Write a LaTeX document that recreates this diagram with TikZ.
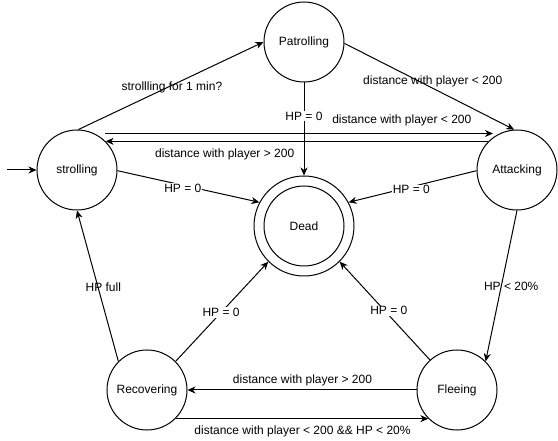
\documentclass[tikz,border=0pt]{standalone}
\usepackage{fontspec}
\setmainfont{Liberation Sans}
\usetikzlibrary{arrows.meta,calc}
\begin{document}
\begin{tikzpicture}[x=1pt,y=-1pt,
  state/.style={draw,circle,line width=1pt,minimum size=80pt,inner sep=0pt,font=\fontsize{12}{14}\selectfont},
  edge/.style={line width=1pt,-{Stealth[length=8pt,width=7pt,inset=2.5pt]}},
  lbl/.style={font=\fontsize{12}{14}\selectfont,inner sep=1pt},
  lblw/.style={lbl,fill=white}]
\useasboundingbox (0,0) rectangle (558,441);
\node[state] (P) at (304,42) {Patrolling};
\node[state] (S) at (77,170) {strolling};
\node[state] (A) at (517,170) {Attacking};
\node[state,minimum size=100pt] (D) at (304,226) {};
\node[state] (Din) at (304,226) {Dead};
\node[state] (R) at (147,390) {Recovering};
\node[state] (F) at (457,390) {Fleeing};
\coordinate (init) at (7,170);
\coordinate (sa1) at ($(S)+(28,-36.5)$);
\coordinate (sa2) at ($(A)+(-24,-36.5)$);
\draw[edge] (init) -- (S.west);
\draw[edge] (S.88) -- node[lbl,pos=0.505,yshift=-2pt]{strollling for 1 min?} (P.180);
\draw[edge] (P.-2) -- node[lbl,pos=0.52,yshift=6.6pt]{distance with player < 200} (A.94);
\draw[edge] (P.south) -- node[lblw,pos=0.36]{HP = 0} (D.north);
\draw[edge] (sa1) -- node[lbl,pos=0.765,yshift=12.8pt]{distance with player < 200} (sa2);
\draw[edge] (A.135) -- node[lbl,pos=0.689,yshift=-13pt]{distance with player > 200} (S.45);
\draw[edge] (S.-1) -- node[lblw,pos=0.46,yshift=-3pt]{HP = 0} (D.152);
\draw[edge] (A.181) -- node[lblw,pos=0.51,yshift=-3pt]{HP = 0} (D.28);
\draw[edge] (A.south) -- node[lbl,pos=0.503,xshift=10pt]{HP < 20\%} (F.45);
\draw[edge] (R.135) -- node[lbl,pos=0.493,xshift=5.3pt]{HP full} (S.south);
\draw[edge] (R.45) -- node[lblw,pos=0.49]{HP = 0} (D.225);
\draw[edge] (F.132.5) -- node[lblw,pos=0.5,xshift=4pt]{HP = 0} (D.315);
\draw[edge] (F.west) -- node[lbl,pos=0.498,yshift=9.3pt]{distance with player > 200} (R.east);
\draw[edge] (R.-45) -- node[lbl,pos=0.502,yshift=-12.4pt]{distance with player < 200 \&\& HP < 20\%} (F.225);
\end{tikzpicture}
\end{document}
